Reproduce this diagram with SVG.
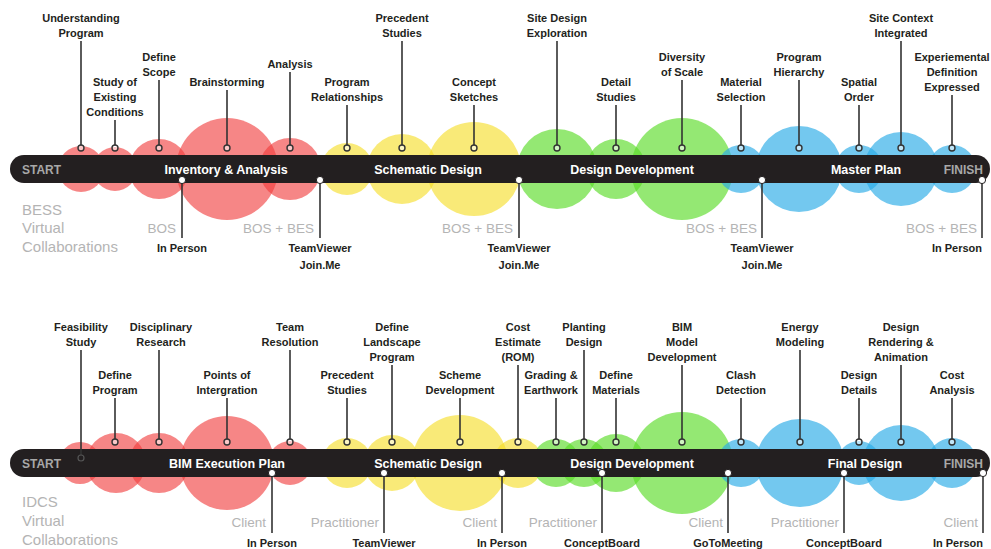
<svg xmlns="http://www.w3.org/2000/svg" width="991" height="549" viewBox="0 0 991 549">
  <style>
    text { font-family: "Liberation Sans", Arial, sans-serif; }
    .lbl { font-size: 11px; font-weight: bold; fill: #231f20; text-anchor: middle; }
    .lbl-r { font-size: 11px; font-weight: bold; fill: #231f20; text-anchor: end; }
    .phase { font-size: 12.5px; font-weight: bold; fill: #ffffff; text-anchor: middle; }
    .end { font-size: 12px; font-weight: bold; fill: #a8a8a8; }
    .who { font-size: 13.5px; fill: #b4b4b4; text-anchor: end; }
    .side { font-size: 15px; fill: #b4b4b4; }
    .bar { fill: #231f20; }
    .red { fill: #f03c3c; fill-opacity: 0.62; }
    .yel { fill: #f5dc1e; fill-opacity: 0.6; }
    .grn { fill: #5adc28; fill-opacity: 0.65; }
    .blu { fill: #28aae6; fill-opacity: 0.65; }
    .lead { stroke: #333333; stroke-width: 1.6; fill: none; }
    .pin { fill: #ffffff; fill-opacity: 0.55; stroke: #333333; stroke-width: 1.4; }
    .pin-dark { fill: #231f20; stroke: #555555; stroke-width: 1.2; }
    .tool { fill: #ffffff; stroke: #231f20; stroke-width: 1; }
  </style>

  <!-- ===================== BESS timeline (top) ===================== -->
  <g id="bess-activities">
    <g id="bess-understanding-program">
      <circle class="red" cx="81" cy="169" r="23"/>
      <text class="lbl"><tspan x="81" y="22">Understanding</tspan><tspan x="81" y="37">Program</tspan></text>
    </g>
    <g id="bess-study-existing">
      <circle class="red" cx="115" cy="169" r="22"/>
      <text class="lbl"><tspan x="115" y="86">Study of</tspan><tspan x="115" y="101">Existing</tspan><tspan x="115" y="116">Conditions</tspan></text>
    </g>
    <g id="bess-define-scope">
      <circle class="red" cx="159" cy="169" r="30"/>
      <text class="lbl"><tspan x="159" y="61">Define</tspan><tspan x="159" y="76">Scope</tspan></text>
    </g>
    <g id="bess-brainstorming">
      <circle class="red" cx="227" cy="169" r="51"/>
      <text class="lbl"><tspan x="227" y="86">Brainstorming</tspan></text>
    </g>
    <g id="bess-analysis">
      <circle class="red" cx="290" cy="169" r="31"/>
      <text class="lbl"><tspan x="290" y="68">Analysis</tspan></text>
    </g>
    <g id="bess-program-relationships">
      <circle class="yel" cx="347" cy="169" r="26"/>
      <text class="lbl"><tspan x="347" y="86">Program</tspan><tspan x="347" y="101">Relationships</tspan></text>
    </g>
    <g id="bess-precedent-studies">
      <circle class="yel" cx="402" cy="169" r="35"/>
      <text class="lbl"><tspan x="402" y="22">Precedent</tspan><tspan x="402" y="37">Studies</tspan></text>
    </g>
    <g id="bess-concept-sketches">
      <circle class="yel" cx="474" cy="169" r="47"/>
      <text class="lbl"><tspan x="474" y="86">Concept</tspan><tspan x="474" y="101">Sketches</tspan></text>
    </g>
    <g id="bess-site-design">
      <circle class="grn" cx="557" cy="169" r="40"/>
      <text class="lbl"><tspan x="557" y="22">Site Design</tspan><tspan x="557" y="37">Exploration</tspan></text>
    </g>
    <g id="bess-detail-studies">
      <circle class="grn" cx="616" cy="169" r="30"/>
      <text class="lbl"><tspan x="616" y="86">Detail</tspan><tspan x="616" y="101">Studies</tspan></text>
    </g>
    <g id="bess-diversity-scale">
      <circle class="grn" cx="682" cy="169" r="51"/>
      <text class="lbl"><tspan x="682" y="61">Diversity</tspan><tspan x="682" y="76">of Scale</tspan></text>
    </g>
    <g id="bess-material-selection">
      <circle class="blu" cx="741" cy="169" r="24"/>
      <text class="lbl"><tspan x="741" y="86">Material</tspan><tspan x="741" y="101">Selection</tspan></text>
    </g>
    <g id="bess-program-hierarchy">
      <circle class="blu" cx="799" cy="169" r="43"/>
      <text class="lbl"><tspan x="799" y="61">Program</tspan><tspan x="799" y="76">Hierarchy</tspan></text>
    </g>
    <g id="bess-spatial-order">
      <circle class="blu" cx="859" cy="169" r="24"/>
      <text class="lbl"><tspan x="859" y="86">Spatial</tspan><tspan x="859" y="101">Order</tspan></text>
    </g>
    <g id="bess-site-context">
      <circle class="blu" cx="901" cy="169" r="37"/>
      <text class="lbl"><tspan x="901" y="22">Site Context</tspan><tspan x="901" y="37">Integrated</tspan></text>
    </g>
    <g id="bess-experiemental">
      <circle class="blu" cx="952" cy="169" r="24"/>
      <text class="lbl"><tspan x="952" y="61">Experiemental</tspan><tspan x="952" y="76">Definition</tspan><tspan x="952" y="91">Expressed</tspan></text>
    </g>
  </g>

  <g id="bess-bar">
    <rect class="bar" x="10" y="155" width="980" height="28" rx="14"/>
    <text class="end" x="22" y="173.5">START</text>
    <text class="phase" x="226" y="173.5">Inventory &amp; Analysis</text>
    <text class="phase" x="428" y="173.5">Schematic Design</text>
    <text class="phase" x="632" y="173.5">Design Development</text>
    <text class="phase" x="866" y="173.5">Master Plan</text>
    <text class="end" x="983" y="173.5" text-anchor="end">FINISH</text>
  </g>

  <g id="bess-side-label">
    <text class="side"><tspan x="22" y="215">BESS</tspan><tspan x="22" y="233">Virtual</tspan><tspan x="22" y="252">Collaborations</tspan></text>
  </g>

  <!-- ===================== IDCS timeline (bottom) ===================== -->
  <g id="idcs-activities">
    <g id="idcs-feasibility">
      <circle class="red" cx="80" cy="463" r="21"/>
      <text class="lbl"><tspan x="81" y="331">Feasibility</tspan><tspan x="81" y="346">Study</tspan></text>
    </g>
    <g id="idcs-define-program">
      <circle class="red" cx="116" cy="463" r="30"/>
      <text class="lbl"><tspan x="115" y="379">Define</tspan><tspan x="115" y="394">Program</tspan></text>
    </g>
    <g id="idcs-disciplinary-research">
      <circle class="red" cx="159" cy="463" r="30"/>
      <text class="lbl"><tspan x="161" y="331">Disciplinary</tspan><tspan x="161" y="346">Research</tspan></text>
    </g>
    <g id="idcs-points-integration">
      <circle class="red" cx="227" cy="463" r="47"/>
      <text class="lbl"><tspan x="227" y="379">Points of</tspan><tspan x="227" y="394">Intergration</tspan></text>
    </g>
    <g id="idcs-team-resolution">
      <circle class="red" cx="290" cy="463" r="22"/>
      <text class="lbl"><tspan x="290" y="331">Team</tspan><tspan x="290" y="346">Resolution</tspan></text>
    </g>
    <g id="idcs-precedent-studies">
      <circle class="yel" cx="347" cy="463" r="25"/>
      <text class="lbl"><tspan x="347" y="379">Precedent</tspan><tspan x="347" y="394">Studies</tspan></text>
    </g>
    <g id="idcs-landscape-program">
      <circle class="yel" cx="392" cy="463" r="28"/>
      <text class="lbl"><tspan x="392" y="331">Define</tspan><tspan x="392" y="346">Landscape</tspan><tspan x="392" y="361">Program</tspan></text>
    </g>
    <g id="idcs-scheme-development">
      <circle class="yel" cx="460" cy="463" r="48"/>
      <text class="lbl"><tspan x="460" y="379">Scheme</tspan><tspan x="460" y="394">Development</tspan></text>
    </g>
    <g id="idcs-cost-estimate">
      <circle class="yel" cx="518" cy="463" r="25"/>
      <text class="lbl"><tspan x="518" y="331">Cost</tspan><tspan x="518" y="346">Estimate</tspan><tspan x="518" y="361">(ROM)</tspan></text>
    </g>
    <g id="idcs-grading">
      <circle class="grn" cx="556" cy="463" r="24"/>
      <text class="lbl"><tspan x="551" y="379">Grading &amp;</tspan><tspan x="551" y="394">Earthwork</tspan></text>
    </g>
    <g id="idcs-planting">
      <circle class="grn" cx="584" cy="463" r="24"/>
      <text class="lbl"><tspan x="584" y="331">Planting</tspan><tspan x="584" y="346">Design</tspan></text>
    </g>
    <g id="idcs-define-materials">
      <circle class="grn" cx="616" cy="463" r="29"/>
      <text class="lbl"><tspan x="616" y="379">Define</tspan><tspan x="616" y="394">Materials</tspan></text>
    </g>
    <g id="idcs-bim-model">
      <circle class="grn" cx="682" cy="463" r="51"/>
      <text class="lbl"><tspan x="682" y="331">BIM</tspan><tspan x="682" y="346">Model</tspan><tspan x="682" y="361">Development</tspan></text>
    </g>
    <g id="idcs-clash-detection">
      <circle class="blu" cx="741" cy="463" r="24"/>
      <text class="lbl"><tspan x="741" y="379">Clash</tspan><tspan x="741" y="394">Detection</tspan></text>
    </g>
    <g id="idcs-energy-modeling">
      <circle class="blu" cx="800" cy="463" r="44"/>
      <text class="lbl"><tspan x="800" y="331">Energy</tspan><tspan x="800" y="346">Modeling</tspan></text>
    </g>
    <g id="idcs-design-details">
      <circle class="blu" cx="859" cy="463" r="22"/>
      <text class="lbl"><tspan x="859" y="379">Design</tspan><tspan x="859" y="394">Details</tspan></text>
    </g>
    <g id="idcs-rendering">
      <circle class="blu" cx="901" cy="463" r="38"/>
      <text class="lbl"><tspan x="901" y="331">Design</tspan><tspan x="901" y="346">Rendering &amp;</tspan><tspan x="901" y="361">Animation</tspan></text>
    </g>
    <g id="idcs-cost-analysis">
      <circle class="blu" cx="952" cy="463" r="25"/>
      <text class="lbl"><tspan x="952" y="379">Cost</tspan><tspan x="952" y="394">Analysis</tspan></text>
    </g>
  </g>

  <g id="idcs-bar">
    <rect class="bar" x="10" y="449" width="980" height="28" rx="14"/>
    <text class="end" x="22" y="467.5">START</text>
    <text class="phase" x="227" y="467.5">BIM Execution Plan</text>
    <text class="phase" x="428" y="467.5">Schematic Design</text>
    <text class="phase" x="632" y="467.5">Design Development</text>
    <text class="phase" x="865" y="467.5">Final Design</text>
    <text class="end" x="983" y="467.5" text-anchor="end">FINISH</text>
  </g>

  <g id="idcs-side-label">
    <text class="side"><tspan x="22" y="507">IDCS</tspan><tspan x="22" y="526">Virtual</tspan><tspan x="22" y="545">Collaborations</tspan></text>
  </g>

  <!-- leader lines from activity labels and collaboration tools to the bars -->
  <g id="connectors" class="lead">
    <!-- BESS activities -->
    <line x1="81" y1="41" x2="81" y2="145"/>
    <line x1="115" y1="120" x2="115" y2="145"/>
    <line x1="159" y1="80" x2="159" y2="145"/>
    <line x1="227" y1="90" x2="227" y2="145"/>
    <line x1="290" y1="72" x2="290" y2="145"/>
    <line x1="347" y1="105" x2="347" y2="145"/>
    <line x1="402" y1="41" x2="402" y2="145"/>
    <line x1="474" y1="105" x2="474" y2="145"/>
    <line x1="557" y1="41" x2="557" y2="145"/>
    <line x1="616" y1="105" x2="616" y2="145"/>
    <line x1="682" y1="80" x2="682" y2="145"/>
    <line x1="741" y1="105" x2="741" y2="145"/>
    <line x1="799" y1="80" x2="799" y2="145"/>
    <line x1="859" y1="105" x2="859" y2="145"/>
    <line x1="901" y1="41" x2="901" y2="145"/>
    <line x1="952" y1="95" x2="952" y2="145"/>
    <!-- BESS tools -->
    <line x1="182" y1="184" x2="182" y2="238"/>
    <line x1="320" y1="184" x2="320" y2="238"/>
    <line x1="519" y1="184" x2="519" y2="238"/>
    <line x1="762" y1="184" x2="762" y2="238"/>
    <line x1="982" y1="184" x2="982" y2="238"/>
    <!-- IDCS activities -->
    <line x1="81" y1="350" x2="81" y2="455"/>
    <line x1="115" y1="398" x2="115" y2="439"/>
    <line x1="159" y1="350" x2="159" y2="439"/>
    <line x1="227" y1="398" x2="227" y2="439"/>
    <line x1="290" y1="350" x2="290" y2="439"/>
    <line x1="347" y1="398" x2="347" y2="439"/>
    <line x1="392" y1="365" x2="392" y2="439"/>
    <line x1="460" y1="398" x2="460" y2="439"/>
    <line x1="518" y1="365" x2="518" y2="439"/>
    <line x1="556" y1="398" x2="556" y2="439"/>
    <line x1="584" y1="350" x2="584" y2="439"/>
    <line x1="616" y1="398" x2="616" y2="439"/>
    <line x1="682" y1="365" x2="682" y2="439"/>
    <line x1="741" y1="398" x2="741" y2="439"/>
    <line x1="800" y1="350" x2="800" y2="439"/>
    <line x1="859" y1="398" x2="859" y2="439"/>
    <line x1="901" y1="365" x2="901" y2="439"/>
    <line x1="952" y1="398" x2="952" y2="439"/>
    <!-- IDCS tools -->
    <line x1="272" y1="477" x2="272" y2="533"/>
    <line x1="384" y1="477" x2="384" y2="533"/>
    <line x1="502" y1="477" x2="502" y2="533"/>
    <line x1="602" y1="477" x2="602" y2="533"/>
    <line x1="728" y1="477" x2="728" y2="533"/>
    <line x1="844" y1="477" x2="844" y2="533"/>
    <line x1="983" y1="477" x2="983" y2="533"/>
  </g>

  <!-- activity pins -->
  <g id="pins">
    <circle class="pin" cx="81" cy="148" r="3"/>
    <circle class="pin" cx="115" cy="148" r="3"/>
    <circle class="pin" cx="159" cy="148" r="3"/>
    <circle class="pin" cx="227" cy="148" r="3"/>
    <circle class="pin" cx="290" cy="148" r="3"/>
    <circle class="pin" cx="347" cy="148" r="3"/>
    <circle class="pin" cx="402" cy="148" r="3"/>
    <circle class="pin" cx="474" cy="148" r="3"/>
    <circle class="pin" cx="557" cy="148" r="3"/>
    <circle class="pin" cx="616" cy="148" r="3"/>
    <circle class="pin" cx="682" cy="148" r="3"/>
    <circle class="pin" cx="741" cy="148" r="3"/>
    <circle class="pin" cx="799" cy="148" r="3"/>
    <circle class="pin" cx="859" cy="148" r="3"/>
    <circle class="pin" cx="901" cy="148" r="3"/>
    <circle class="pin" cx="952" cy="148" r="3"/>

    <circle class="pin-dark" cx="81" cy="458" r="3"/>
    <circle class="pin" cx="115" cy="442" r="3"/>
    <circle class="pin" cx="159" cy="442" r="3"/>
    <circle class="pin" cx="227" cy="442" r="3"/>
    <circle class="pin" cx="290" cy="442" r="3"/>
    <circle class="pin" cx="347" cy="442" r="3"/>
    <circle class="pin" cx="392" cy="442" r="3"/>
    <circle class="pin" cx="460" cy="442" r="3"/>
    <circle class="pin" cx="518" cy="442" r="3"/>
    <circle class="pin" cx="556" cy="442" r="3"/>
    <circle class="pin" cx="584" cy="442" r="3"/>
    <circle class="pin" cx="616" cy="442" r="3"/>
    <circle class="pin" cx="682" cy="442" r="3"/>
    <circle class="pin" cx="741" cy="442" r="3"/>
    <circle class="pin" cx="800" cy="442" r="3"/>
    <circle class="pin" cx="859" cy="442" r="3"/>
    <circle class="pin" cx="901" cy="442" r="3"/>
    <circle class="pin" cx="952" cy="442" r="3"/>
  </g>

  <!-- collaboration tools, BESS -->
  <g id="bess-tool-1">
    <circle class="tool" cx="182" cy="180" r="3.6"/>
    <text class="who" x="176" y="233">BOS</text>
    <text class="lbl" x="182" y="252">In Person</text>
  </g>
  <g id="bess-tool-2">
    <circle class="tool" cx="320" cy="180" r="3.6"/>
    <text class="who" x="314" y="233">BOS + BES</text>
    <text class="lbl"><tspan x="320" y="252">TeamViewer</tspan><tspan x="320" y="269">Join.Me</tspan></text>
  </g>
  <g id="bess-tool-3">
    <circle class="tool" cx="519" cy="180" r="3.6"/>
    <text class="who" x="513" y="233">BOS + BES</text>
    <text class="lbl"><tspan x="519" y="252">TeamViewer</tspan><tspan x="519" y="269">Join.Me</tspan></text>
  </g>
  <g id="bess-tool-4">
    <circle class="tool" cx="762" cy="180" r="3.6"/>
    <text class="who" x="757" y="233">BOS + BES</text>
    <text class="lbl"><tspan x="762" y="252">TeamViewer</tspan><tspan x="762" y="269">Join.Me</tspan></text>
  </g>
  <g id="bess-tool-5">
    <circle class="tool" cx="982" cy="180" r="3.6"/>
    <text class="who" x="977" y="233">BOS + BES</text>
    <text class="lbl-r" x="982" y="252">In Person</text>
  </g>

  <!-- collaboration tools, IDCS -->
  <g id="idcs-tool-1">
    <circle class="tool" cx="272" cy="473" r="3.6"/>
    <text class="who" x="266" y="527">Client</text>
    <text class="lbl" x="272" y="547">In Person</text>
  </g>
  <g id="idcs-tool-2">
    <circle class="tool" cx="384" cy="473" r="3.6"/>
    <text class="who" x="379" y="527">Practitioner</text>
    <text class="lbl" x="384" y="547">TeamViewer</text>
  </g>
  <g id="idcs-tool-3">
    <circle class="tool" cx="502" cy="473" r="3.6"/>
    <text class="who" x="497" y="527">Client</text>
    <text class="lbl" x="502" y="547">In Person</text>
  </g>
  <g id="idcs-tool-4">
    <circle class="tool" cx="602" cy="473" r="3.6"/>
    <text class="who" x="597" y="527">Practitioner</text>
    <text class="lbl" x="602" y="547">ConceptBoard</text>
  </g>
  <g id="idcs-tool-5">
    <circle class="tool" cx="728" cy="473" r="3.6"/>
    <text class="who" x="723" y="527">Client</text>
    <text class="lbl" x="728" y="547">GoToMeeting</text>
  </g>
  <g id="idcs-tool-6">
    <circle class="tool" cx="844" cy="473" r="3.6"/>
    <text class="who" x="839" y="527">Practitioner</text>
    <text class="lbl" x="844" y="547">ConceptBoard</text>
  </g>
  <g id="idcs-tool-7">
    <circle class="tool" cx="983" cy="473" r="3.6"/>
    <text class="who" x="978" y="527">Client</text>
    <text class="lbl-r" x="983" y="547">In Person</text>
  </g>
</svg>
